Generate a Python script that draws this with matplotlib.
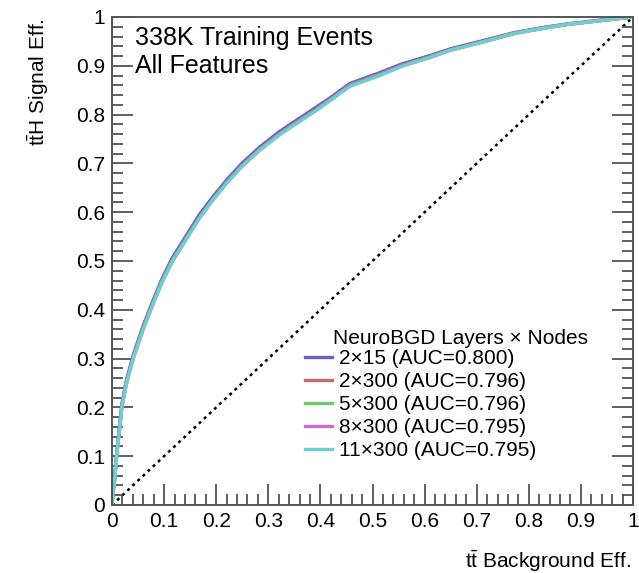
import numpy as np
import matplotlib
matplotlib.use("Agg")
import matplotlib.pyplot as plt
from matplotlib.ticker import MultipleLocator, FormatStrFormatter

plt.rcParams['font.family'] = ['Liberation Sans', 'DejaVu Sans']
plt.rcParams['mathtext.fontset'] = 'custom'
plt.rcParams['mathtext.rm'] = 'Liberation Sans'

# background efficiency grid
bkg_eff = [0.0, 0.002, 0.005, 0.009, 0.014, 0.019, 0.028, 0.041, 0.059, 0.079,
           0.097, 0.115, 0.150, 0.169, 0.194, 0.220, 0.250, 0.284, 0.320, 0.342,
           0.393, 0.418, 0.457, 0.514, 0.554, 0.610, 0.650, 0.706, 0.772, 0.830,
           0.875, 0.940, 1.0]

# signal efficiency per model
sig_2x15 = [0.0, 0.028, 0.055, 0.106, 0.157, 0.208, 0.258, 0.308, 0.365, 0.420,
            0.466, 0.505, 0.565, 0.597, 0.632, 0.666, 0.701, 0.734, 0.764, 0.780,
            0.816, 0.834, 0.864, 0.886, 0.903, 0.921, 0.935, 0.950, 0.968, 0.979,
            0.986, 0.994, 1.0]
sig_2x300 = [0.0, 0.026, 0.052, 0.103, 0.153, 0.204, 0.254, 0.304, 0.361, 0.416,
             0.462, 0.501, 0.560, 0.592, 0.628, 0.662, 0.697, 0.730, 0.760, 0.776,
             0.812, 0.831, 0.861, 0.883, 0.900, 0.919, 0.933, 0.948, 0.967, 0.978,
             0.985, 0.993, 1.0]
sig_5x300 = [0.0, 0.026, 0.051, 0.102, 0.152, 0.203, 0.253, 0.303, 0.360, 0.415,
             0.461, 0.500, 0.559, 0.591, 0.627, 0.661, 0.696, 0.729, 0.759, 0.775,
             0.811, 0.830, 0.860, 0.882, 0.899, 0.918, 0.933, 0.948, 0.967, 0.978,
             0.985, 0.993, 1.0]
sig_8x300 = [0.0, 0.025, 0.051, 0.101, 0.151, 0.201, 0.251, 0.301, 0.358, 0.413,
             0.459, 0.498, 0.558, 0.590, 0.626, 0.660, 0.695, 0.728, 0.758, 0.774,
             0.810, 0.829, 0.859, 0.881, 0.899, 0.917, 0.932, 0.947, 0.966, 0.977,
             0.985, 0.993, 1.0]
sig_11x300 = [0.0, 0.025, 0.050, 0.100, 0.150, 0.200, 0.250, 0.300, 0.357, 0.412,
              0.458, 0.497, 0.557, 0.589, 0.625, 0.659, 0.694, 0.727, 0.757, 0.773,
              0.809, 0.828, 0.858, 0.880, 0.898, 0.917, 0.932, 0.947, 0.966, 0.977,
              0.985, 0.993, 1.0]

labels = ["2×15 (AUC=0.800)", "2×300 (AUC=0.796)", "5×300 (AUC=0.796)",
          "8×300 (AUC=0.795)", "11×300 (AUC=0.795)"]
colors = ["#6a5fd0", "#c46a6a", "#6ccc6a", "#c86ad2", "#6ccfd0"]
curves = [sig_2x15, sig_2x300, sig_5x300, sig_8x300, sig_11x300]

fig = plt.figure(figsize=(6.39, 5.73), dpi=100)
ax = fig.add_axes([112/639, 1-505/573, 521/639, 488/573])

ax.plot([0, 1], [0, 1], color='black', ls=(0, (1.2, 1.6)), lw=1.8, zorder=1)
handles = []
for y, c, l in zip(curves, colors, labels):
    h, = ax.plot(bkg_eff, y, color=c, lw=2.4, label=l, zorder=2,
                 solid_joinstyle='round')
    handles.append(h)

ax.set_xlim(0, 1)
ax.set_ylim(0, 1)
ax.xaxis.set_major_locator(MultipleLocator(0.1))
ax.yaxis.set_major_locator(MultipleLocator(0.1))
ax.xaxis.set_minor_locator(MultipleLocator(0.02))
ax.yaxis.set_minor_locator(MultipleLocator(0.02))
ax.xaxis.set_major_formatter(FormatStrFormatter('%g'))
ax.yaxis.set_major_formatter(FormatStrFormatter('%g'))
ax.tick_params(which='both', direction='in', right=True, top=False,
               color='#444444', labelsize=15, width=1.2)
ax.tick_params(which='major', length=15, pad=5)
ax.tick_params(which='minor', length=8)
for s in ax.spines.values():
    s.set_color('#555555')
    s.set_linewidth(1.4)

fig.text(38/639, 1-18/573, r'$\mathrm{t\bar{t}H}$ Signal Eff.', rotation=90,
         ha='center', va='top', fontsize=15)
fig.text(631/639, 1-561/573, r'$\mathrm{t\bar{t}}$ Background Eff.',
         ha='right', va='center', fontsize=15)

fig.text(135/639, 1-38/573, '338K Training Events', fontsize=18, va='center')
fig.text(135/639, 1-66/573, 'All Features', fontsize=18, va='center')

fig.text(333/639, 1-338/573, 'NeuroBGD Layers × Nodes', fontsize=15, va='center')
ax.legend(handles=handles, loc='upper left', bbox_to_anchor=(305/639, 1-349/573),
          bbox_transform=fig.transFigure, frameon=False, fontsize=15,
          handlelength=1.3, handletextpad=0.35, labelspacing=0.19,
          borderpad=0, borderaxespad=0)

fig.savefig('out.png', dpi=100)
